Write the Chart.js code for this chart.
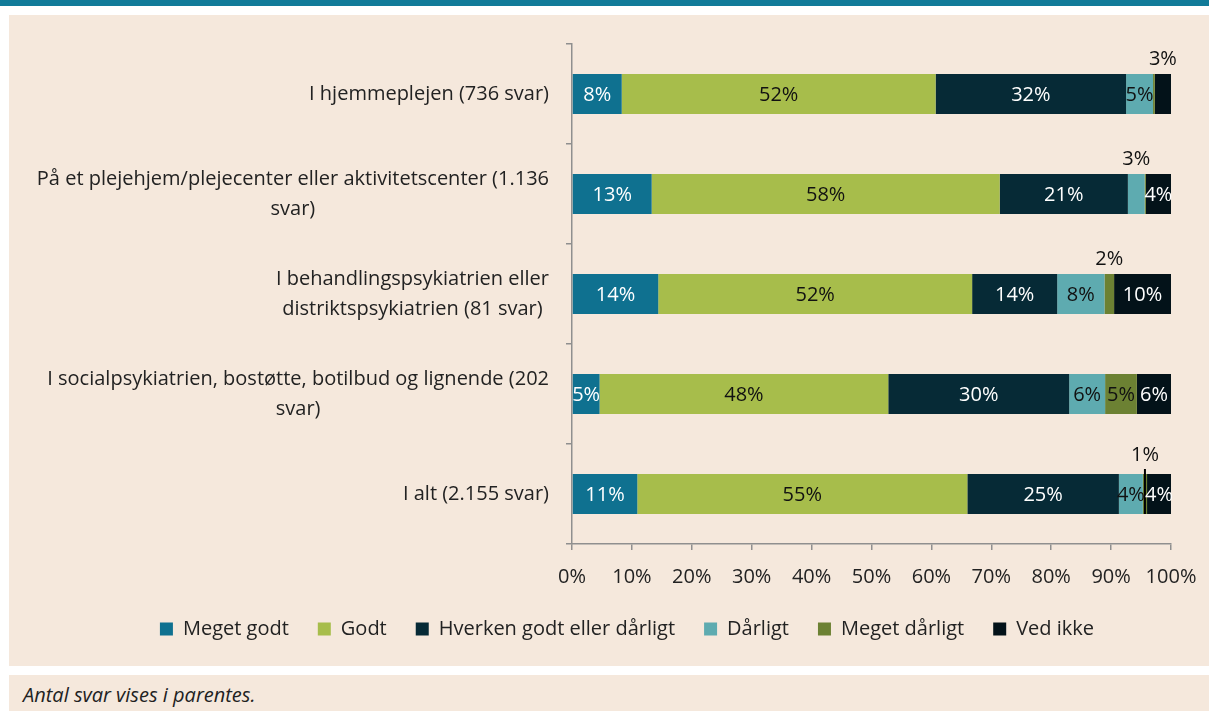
<!DOCTYPE html>
<html lang="da">
<head>
<meta charset="utf-8">
<title>Vurdering af indsatsen</title>
<script src="https://cdn.jsdelivr.net/npm/chart.js@4.4.1/dist/chart.umd.min.js"></script>
<style>
  html, body { margin: 0; padding: 0; background: #fff; }
  body { width: 1209px; height: 711px; position: relative; overflow: hidden; font-family: "Open Sans", sans-serif; }
  #band { position: absolute; left: 0; top: 0; width: 1209px; height: 6px; background: #117b99; }
  #panel { position: absolute; left: 9px; top: 15px; width: 1200px; height: 651px; background: #f5e8dc; }
  #note { position: absolute; left: 9px; top: 675px; width: 1200px; height: 36px; background: #f5e8dc;
          font-style: italic; font-size: 20px; color: #222; line-height: 36px; padding: 2px 0 0 14px; box-sizing: border-box; }
</style>
</head>
<body>
<div id="band"></div>
<div id="panel"><canvas id="chart"></canvas></div>
<div id="note">Antal svar vises i parentes.</div>
<script>
// Category labels, already split into the lines they wrap onto
const categories = [
  ["I hjemmeplejen (736 svar)"],
  ["På et plejehjem/plejecenter eller aktivitetscenter (1.136", "svar)"],
  ["I behandlingspsykiatrien eller", "distriktspsykiatrien (81 svar)"],
  ["I socialpsykiatrien, bostøtte, botilbud og lignende (202", "svar)"],
  ["I alt (2.155 svar)"],
];

const seriesNames = ["Meget godt", "Godt", "Hverken godt eller dårligt", "Dårligt", "Meget dårligt", "Ved ikke"];
const seriesColors = ["#0f7190", "#a7bd4b", "#062a36", "#5eabb0", "#6c8133", "#031219"];
const labelColors = ["#fff", "#111", "#fff", "#111", "#111", "#fff"];

// Shares in percent, one value per category
const megetGodt = [8.3, 13.3, 14.4, 4.6, 10.9];
const godt = [52.4, 58.1, 52.4, 48.2, 55.1];
const hverken = [31.8, 21.4, 14.2, 30.2, 25.3];
const daarligt = [4.5, 2.8, 7.9, 6.0, 4.0];
const megetDaarligt = [0.3, 0.2, 1.6, 5.3, 0.7];
const vedIkke = [2.7, 4.2, 9.5, 5.7, 4.0];

const xTicks = [0, 10, 20, 30, 40, 50, 60, 70, 80, 90, 100];

const FONT = "Open Sans";
const SIZE = 20;
const TEXT = "#222";
const AXIS = "#8f8f8f";

Chart.defaults.font.family = FONT;
Chart.defaults.font.size = SIZE;
Chart.defaults.color = TEXT;

// Percent labels on the segments; small ones go above the bar
const segmentLabels = {
  id: "segmentLabels",
  afterDatasetsDraw(chart) {
    const ctx = chart.ctx;
    ctx.save();
    ctx.font = `${SIZE}px "${FONT}"`;
    ctx.textAlign = "center";
    ctx.textBaseline = "middle";
    chart.data.datasets.forEach((ds, di) => {
      chart.getDatasetMeta(di).data.forEach((bar, i) => {
        const v = ds.data[i];
        if (v < 0.5) return;
        const cx = (bar.x + bar.base) / 2;
        const txt = `${Math.round(v)}%`;
        if (v < 3.5) {
          const top = bar.y - bar.height / 2;
          const leader = v < 1.2;
          ctx.fillStyle = "#111";
          ctx.fillText(txt, cx, top - (leader ? 19 : 15));
          if (leader) {
            ctx.strokeStyle = "#000";
            ctx.lineWidth = 2;
            ctx.beginPath();
            ctx.moveTo(cx, top - 5);
            ctx.lineTo(cx, bar.y + bar.height / 2);
            ctx.stroke();
          }
        } else {
          ctx.fillStyle = labelColors[di];
          ctx.fillText(txt, cx, bar.y + 1);
        }
      });
    });
    ctx.restore();
  },
};

// Category labels: block right-aligned to the axis, lines centred inside the block
const categoryLabels = {
  id: "categoryLabels",
  afterDraw(chart) {
    const ctx = chart.ctx;
    const y = chart.scales.y;
    const right = chart.chartArea.left - 23;
    const lineH = 30;
    ctx.save();
    ctx.font = `${SIZE}px "${FONT}"`;
    ctx.fillStyle = TEXT;
    ctx.textAlign = "center";
    ctx.textBaseline = "middle";
    categories.forEach((lines, i) => {
      const w = Math.max(...lines.map((l) => ctx.measureText(l).width));
      const cx = right - w / 2;
      const cy = y.getPixelForValue(i);
      lines.forEach((l, k) => {
        ctx.fillText(l, cx, cy + (k - (lines.length - 1) / 2) * lineH);
      });
    });
    ctx.restore();
  },
};

const datasets = [megetGodt, godt, hverken, daarligt, megetDaarligt, vedIkke].map((data, i) => ({
  label: seriesNames[i],
  data,
  backgroundColor: seriesColors[i],
  borderWidth: 0,
  barPercentage: 0.4,
  categoryPercentage: 1,
}));

new Chart(document.getElementById("chart"), {
  type: "bar",
  data: { labels: categories.map((l) => l.join(" ")), datasets },
  plugins: [segmentLabels, categoryLabels],
  options: {
    indexAxis: "y",
    responsive: true,
    maintainAspectRatio: false,
    animation: false,
    layout: { padding: { left: 74, right: 38, top: 29, bottom: 17 } },
    plugins: {
      legend: {
        position: "bottom",
        labels: { boxWidth: 13, boxHeight: 13, padding: 29, color: TEXT, font: { size: SIZE } },
      },
      tooltip: { enabled: false },
    },
    scales: {
      x: {
        stacked: true,
        min: 0,
        max: 100,
        afterBuildTicks: (s) => { s.ticks = xTicks.map((value) => ({ value })); },
        ticks: { callback: (v) => `${v}%`, padding: 15, color: TEXT, maxRotation: 0 },
        grid: { drawOnChartArea: false, tickLength: 6, color: AXIS, lineWidth: 1.5 },
        border: { color: AXIS, width: 1.5 },
        afterFit: (s) => { s.height = 46; s.paddingLeft = 0; s.paddingRight = 0; },
      },
      y: {
        stacked: true,
        ticks: { display: false },
        grid: { drawOnChartArea: false, offset: true, tickLength: 6, color: AXIS, lineWidth: 1.5 },
        border: { color: AXIS, width: 1.5 },
        afterFit: (s) => { s.width = 489; },
      },
    },
  },
});
</script>
</body>
</html>
